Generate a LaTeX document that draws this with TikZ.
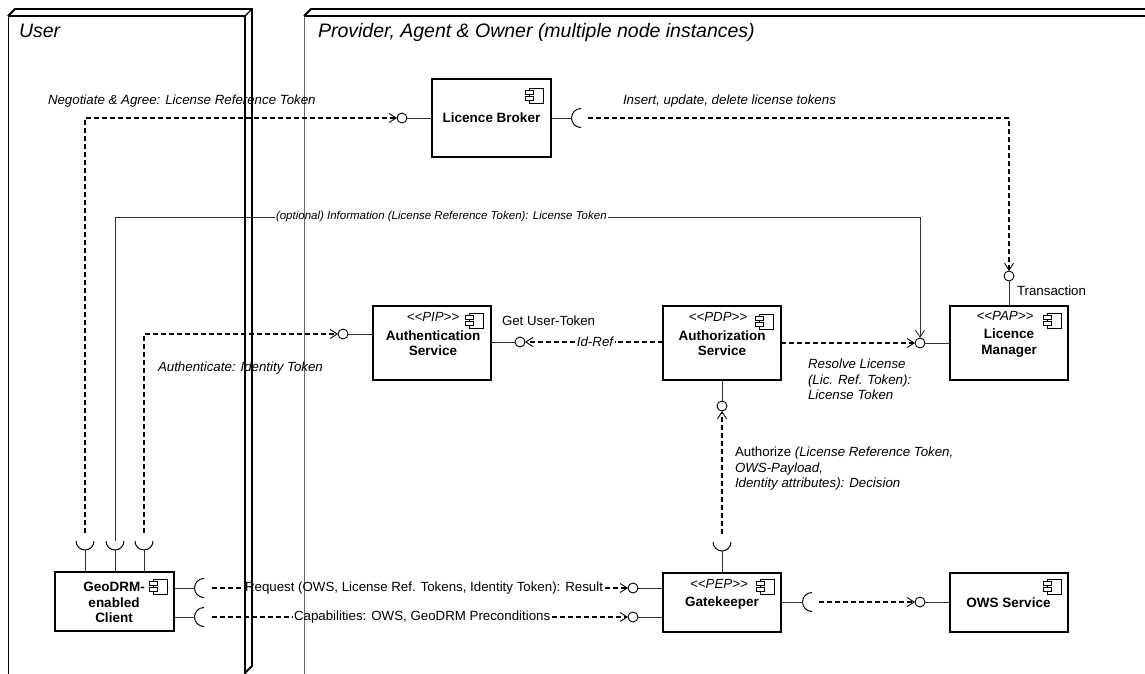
\documentclass[tikz,border=0pt]{standalone}
\usepackage{fontspec}
\setmainfont{Liberation Sans}
\usetikzlibrary{arrows.meta}
% UML stereotype brackets, kept as plain double angle characters
\newcommand{\umlstereo}[1]{<\kern0pt<#1>\kern0pt>}
\begin{document}
\begin{tikzpicture}[x=1pt,y=-1pt,
  every node/.style={inner sep=0pt, outer sep=0pt},
  lbl/.style={font=\fontsize{13.3}{15.5}\selectfont},
  itl/.style={font=\fontsize{13.3}{15.5}\selectfont\itshape},
  cutlbl/.style={inner sep=1.5pt},
  comp/.style={draw, line width=1.8pt, minimum width=118pt, minimum height=74pt},
  compsmall/.style={comp, minimum height=59pt},
  compname/.style={font=\fontsize{13.5}{15.5}\selectfont\bfseries, align=center},
  stereo/.style={font=\fontsize{13.3}{15.5}\selectfont\itshape},
  ball/.style={circle, draw, line width=0.9pt, fill=white, minimum size=10pt},
  conn/.style={draw=black!80, line width=1pt},
  dashc/.style={line width=2.1pt, dash pattern=on 5pt off 3pt},
  openv/.style={-{Straight Barb[length=7pt,width=9pt,line width=0.9pt]}},
  frthick/.style={line width=1.8pt},
  frmid/.style={line width=1.3pt},
  frthin/.style={line width=1pt},
  title/.style={font=\fontsize{19.5}{22}\selectfont\itshape},
  lsocket/.pic={\draw[line width=1pt] (0,9.5) arc[start angle=90,end angle=270,radius=9.5];},
  usocket/.pic={\draw[line width=1pt] (-9,0) arc[start angle=180,end angle=0,radius=9];},
  compicon/.pic={
    \draw[line width=0.8pt, fill=white] (-14,0) rectangle (0,15);
    \draw[line width=0.8pt, fill=white] (-18,2.5) rectangle (-10,6.5);
    \draw[line width=0.8pt, fill=white] (-18,8.5) rectangle (-10,12.5);
  }]
\useasboundingbox (0,0) rectangle (1145,673);

% ---- node frames ----
% User
\draw[frthin] (8,676) -- (8,16);
\draw[frmid] (8,16) -- (245,16);
\draw[frthick] (8,16) -- (15,9) -- (252,9) -- (252,666) -- (245,673);
\draw[frmid] (245,16) -- (252,9);
\draw[frmid] (245,16) -- (245,676);
\node[title, anchor=base west] (ttlUser) at (19,37) {User};
% Provider, Agent & Owner
\draw[frthin, draw=black!60] (304,676) -- (304,16);
\draw[frmid] (304,16) -- (1150,16);
\draw[frthick] (304,16) -- (311,9) -- (1150,9);
\node[title, anchor=base west] (ttlProv) at (318,37) {Provider, Agent \& Owner (multiple node instances)};

% ---- components ----
\node[comp, minimum width=119pt, minimum height=78pt] (lb) at (491.5,118) {};
\node[compname] (lbN) at (lb.center) {Licence Broker};
\pic at ([shift={(-8,9)}]lb.north east) {compicon};

\node[comp] (auth) at (432,343) {};
\node[stereo] (authS) at (433,317) {\umlstereo{PIP}};
\node[compname] (authN) at ([shift={(1,0)}]auth.center) {Authentication\\Service};
\pic at ([shift={(-8,7)}]auth.north east) {compicon};

\node[comp] (authz) at (722,343) {};
\node[stereo] (authzS) at (718,317) {\umlstereo{PDP}};
\node[compname] (authzN) at (authz.center) {Authorization\\Service};
\pic at ([shift={(-8,8)}]authz.north east) {compicon};

\node[comp] (lm) at (1009,343) {};
\node[stereo] (lmS) at (1005,316) {\umlstereo{PAP}};
\node[compname] (lmN) at (lm.center) {Licence\\Manager};
\pic at ([shift={(-7,7)}]lm.north east) {compicon};

\node[compsmall] (gk) at (722,602.5) {};
\node[stereo] (gkS1) at (719,584) {\umlstereo{PEP}};
\node[compname] (gkN) at (722,603) {Gatekeeper};
\pic at ([shift={(-7,6)}]gk.north east) {compicon};

\node[compsmall] (ows) at (1009,602.5) {};
\node[compname] (owsN) at (1008.5,602.5) {OWS Service};
\pic at ([shift={(-7,6)}]ows.north east) {compicon};

\node[compsmall, minimum width=119pt] (cl) at (114.5,601.5) {};
\node[compname] (clN) at (114,602.5) {GeoDRM-\\enabled\\Client};
\pic at ([shift={(-7,7)}]cl.north east) {compicon};

% ---- provided interfaces (lollipops) ----
\node[ball] (lbL) at (402,118) {};
\node[ball] (authL) at (343,334) {};
\node[ball] (authR) at (520,342) {};
\node[ball] (lmL) at (920,343) {};
\node[ball] (lmT) at (1009,276) {};
\node[ball] (authzB) at (722,406) {};
\node[ball] (gkL1) at (633,588) {};
\node[ball] (gkL2) at (633,617) {};
\node[ball] (owsL) at (920,602) {};

\draw[conn] (lbL.east) -- (lbL -| lb.west);
\draw[conn] (authL.east) -- (authL -| auth.west);
\draw[conn] (authR.west) -- (authR -| auth.east);
\draw[conn] (lmL.east) -- (lmL -| lm.west);
\draw[conn] (lmT.south) -- (lmT |- lm.north);
\draw[conn] (authzB.north) -- (authzB |- authz.south);
\draw[conn] (gkL1.east) -- (gkL1 -| gk.west);
\draw[conn] (gkL2.east) -- (gkL2 -| gk.west);
\draw[conn] (owsL.east) -- (owsL -| ows.west);

% ---- required interfaces (sockets) ----
\coordinate (lbSk) at (581,118);
\coordinate (gkSk) at (812,602);
\coordinate (clSk1) at (204,588);
\coordinate (clSk2) at (204,617);
\coordinate (gkT) at (722,542);
\coordinate (clT1) at (85,541);
\coordinate (clT2) at (115,541);
\coordinate (clT3) at (144,541);

\pic at (lbSk) {lsocket};
\pic at (gkSk) {lsocket};
\pic at (clSk1) {lsocket};
\pic at (clSk2) {lsocket};
\pic at (gkT) {usocket};
\pic at (clT1) {usocket};
\pic at (clT2) {usocket};
\pic at (clT3) {usocket};

\draw[conn] (lbSk -| lb.east) -- ([shift={(-9.5,0)}]lbSk);
\draw[conn] (gkSk -| gk.east) -- ([shift={(-9.5,0)}]gkSk);
\draw[conn] (clSk1 -| cl.east) -- ([shift={(-9.5,0)}]clSk1);
\draw[conn] (clSk2 -| cl.east) -- ([shift={(-9.5,0)}]clSk2);
\draw[conn] ([shift={(0,9)}]gkT) -- (gkT |- gk.north);
\draw[conn] ([shift={(0,9)}]clT1) -- (clT1 |- cl.north);
\draw[conn] ([shift={(0,9)}]clT2) -- (clT2 |- cl.north);
\draw[conn] ([shift={(0,9)}]clT3) -- (clT3 |- cl.north);

% ---- dependencies ----
% Negotiate & Agree
\draw[dashc, openv] ([shift={(0,-8)}]clT1) |- (lbL.west);
\node[itl, anchor=base west] (negL) at (48,104) {Negotiate \& Agree: License Reference Token};

% Insert, update, delete
\draw[dashc, openv] ([shift={(7,0)}]lbSk) -| (lmT.north);
\node[itl, anchor=base west] (insL) at (623,104) {Insert, update, delete license tokens};
\node[lbl, anchor=base west] (trL) at (1017,295) {Transaction};

% (optional) Information
\node[cutlbl, anchor=west, font=\fontsize{11.5}{14}\selectfont\itshape] (optL) at (274.5,217) {(optional) Information (License Reference Token): License Token};
\draw[conn] (clT2) |- (optL.west);
\draw[conn, openv] (optL.east) -| (lmL.north);

% Authenticate
\draw[dashc, openv] ([shift={(0,-8)}]clT3) |- (authL.west);
\node[itl, anchor=base west] (autL) at (158,371) {Authenticate: Identity Token};

% Get User-Token
\node[itl, cutlbl] (idL) at (595,342) {Id-Ref};
\draw[dashc] (authR -| authz.west) -- (idL.east);
\draw[dashc, openv] (idL.west) -- (authR.east);
\node[lbl, anchor=base west] (gutL) at (502,325) {Get User-Token};

% Resolve License
\draw[dashc, openv] (lmL -| authz.east) -- (lmL.west);
\node[itl, anchor=north west, align=left] (resL) at (808,359) {Resolve License\\(Lic. Ref. Token):\\License Token};

% Authorize
\draw[dashc, openv] ([shift={(0,-8)}]gkT) -- (authzB.south);
\node[lbl, anchor=north west, align=left] (azL) at (735,447) {Authorize \textit{(License Reference Token,}\\\textit{OWS-Payload,}\\\textit{Identity attributes): Decision}};

% Request
\node[lbl, cutlbl, anchor=west] (reqL) at (243.5,588) {Request (OWS, License Ref. Tokens, Identity Token): Result};
\draw[dashc] ([shift={(8,0)}]clSk1) -- (reqL.west);
\draw[dashc, openv] (reqL.east) -- (gkL1.west);

% Capabilities
\node[lbl, cutlbl, anchor=west] (capL) at (292.5,617) {Capabilities: OWS, GeoDRM Preconditions};
\draw[dashc] ([shift={(8,0)}]clSk2) -- (capL.west);
\draw[dashc, openv] (capL.east) -- (gkL2.west);

% Gatekeeper to OWS
\draw[dashc, openv] ([shift={(7,0)}]gkSk) -- (owsL.west);
\end{tikzpicture}
\end{document}
